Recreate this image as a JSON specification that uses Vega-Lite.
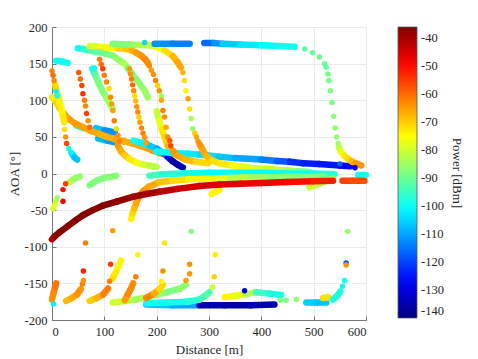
{
"$schema": "https://vega.github.io/schema/vega-lite/v6.json",
"width": 314, "height": 293,
"autosize": {"type": "none"},
"padding": {"left": 52, "top": 27, "right": 112, "bottom": 39},
"background": "white",
"config": {
  "view": {"stroke": null},
  "font": "Liberation Serif",
  "axis": {"labelFont": "Liberation Serif", "titleFont": "Liberation Serif", "labelFontSize": 12.5, "titleFontSize": 13, "titleFontWeight": "normal", "labelColor": "#262626", "titleColor": "#262626", "gridColor": "#e6e6e6", "gridWidth": 0.8, "domainColor": "#777", "tickColor": "#777", "tickSize": -4, "labelPadding": 9},
  "legend": {"labelFont": "Liberation Serif", "titleFont": "Liberation Serif", "labelFontSize": 12.5, "titleFontSize": 13, "titleFontWeight": "normal", "labelColor": "#262626", "titleColor": "#262626"}
},
"datasets": {
"seg": [
{"d":180,"a":-179,"d2":230,"a2":-180,"p":-107},{"d":230,"a":-180,"d2":282,"a2":-180,"p":-110},
{"d":282,"a":-180,"d2":330,"a2":-180,"p":-135},{"d":330,"a":-180,"d2":380,"a2":-180,"p":-136},{"d":380,"a":-180,"d2":425,"a2":-179,"p":-135},
{"d":180,"a":-177,"d2":220,"a2":-176,"p":-100},{"d":220,"a":-176,"d2":260,"a2":-175,"p":-99},{"d":260,"a":-175,"d2":282,"a2":-172,"p":-97},{"d":282,"a":-172,"d2":292,"a2":-167,"p":-95},{"d":292,"a":-167,"d2":301,"a2":-162,"p":-93},
{"d":116,"a":-176,"d2":140,"a2":-174,"p":-80},{"d":140,"a":-174,"d2":160,"a2":-172,"p":-82},{"d":160,"a":-172,"d2":186,"a2":-168,"p":-84},{"d":186,"a":-168,"d2":220,"a2":-162,"p":-86},{"d":220,"a":-162,"d2":245,"a2":-157,"p":-88},{"d":245,"a":-157,"d2":256,"a2":-152,"p":-86},
{"d":180,"a":-170,"d2":195,"a2":-164,"p":-62},{"d":195,"a":-164,"d2":205,"a2":-158,"p":-67},{"d":205,"a":-158,"d2":212,"a2":-152,"p":-71},
{"d":139,"a":-173,"d2":145,"a2":-165,"p":-65},{"d":145,"a":-165,"d2":151,"a2":-157,"p":-63},{"d":151,"a":-157,"d2":155,"a2":-150,"p":-63},
{"d":72,"a":-174,"d2":85,"a2":-170,"p":-70},{"d":85,"a":-170,"d2":98,"a2":-165,"p":-67},{"d":98,"a":-165,"d2":107,"a2":-157,"p":-62},
{"d":116,"a":-143,"d2":121,"a2":-136,"p":-72},{"d":121,"a":-136,"d2":126,"a2":-128,"p":-73},{"d":126,"a":-128,"d2":132,"a2":-119,"p":-74},
{"d":27,"a":-174,"d2":38,"a2":-170,"p":-68},{"d":38,"a":-170,"d2":48,"a2":-165,"p":-66},{"d":48,"a":-165,"d2":55,"a2":-158,"p":-64},
{"d":0,"a":-172,"d2":3,"a2":-163,"p":-64},{"d":3,"a":-163,"d2":6,"a2":-155,"p":-63},{"d":6,"a":-155,"d2":8,"a2":-150,"p":-61},
{"d":330,"a":-169,"d2":350,"a2":-167,"p":-74},{"d":350,"a":-167,"d2":370,"a2":-165,"p":-77},{"d":370,"a":-165,"d2":390,"a2":-162,"p":-83},{"d":390,"a":-162,"d2":415,"a2":-164,"p":-95},{"d":415,"a":-164,"d2":438,"a2":-166,"p":-98},
{"d":486,"a":-176,"d2":505,"a2":-176,"p":-106},{"d":505,"a":-176,"d2":524,"a2":-176,"p":-107},
{"d":518,"a":-170,"d2":528,"a2":-169,"p":-72},
{"d":537,"a":-172,"d2":545,"a2":-167,"p":-98},{"d":545,"a":-167,"d2":551,"a2":-161,"p":-98},
{"d":8,"a":154,"d2":19,"a2":153,"p":-100},{"d":19,"a":153,"d2":30,"a2":151,"p":-99},
{"d":49,"a":171,"d2":60,"a2":170,"p":-99},{"d":60,"a":170,"d2":72,"a2":168,"p":-96},{"d":72,"a":168,"d2":85,"a2":166,"p":-93},{"d":85,"a":166,"d2":100,"a2":164,"p":-91},{"d":100,"a":164,"d2":116,"a2":161,"p":-89},{"d":116,"a":161,"d2":128,"a2":155,"p":-87},{"d":128,"a":155,"d2":138,"a2":150,"p":-85},{"d":138,"a":150,"d2":146,"a2":144,"p":-83},
{"d":72,"a":174,"d2":90,"a2":173,"p":-79},{"d":90,"a":173,"d2":110,"a2":172,"p":-76},{"d":110,"a":172,"d2":126,"a2":171,"p":-74},{"d":126,"a":171,"d2":142,"a2":170,"p":-71},{"d":142,"a":170,"d2":152,"a2":168,"p":-69},{"d":152,"a":168,"d2":161,"a2":165,"p":-67},{"d":161,"a":165,"d2":170,"a2":161,"p":-65},{"d":170,"a":161,"d2":178,"a2":156,"p":-64},{"d":178,"a":156,"d2":184,"a2":150,"p":-63},
{"d":116,"a":177,"d2":135,"a2":176.5,"p":-88},{"d":135,"a":176.5,"d2":150,"a2":176,"p":-88},{"d":150,"a":176,"d2":165,"a2":175.5,"p":-86},{"d":165,"a":175.5,"d2":186,"a2":175,"p":-83},{"d":186,"a":175,"d2":200,"a2":173,"p":-80},{"d":200,"a":173,"d2":215,"a2":168,"p":-76},{"d":215,"a":168,"d2":231,"a2":160,"p":-72},{"d":231,"a":160,"d2":240,"a2":152,"p":-68},{"d":240,"a":152,"d2":246,"a2":145,"p":-66},
{"d":196,"a":177,"d2":230,"a2":177,"p":-112},{"d":230,"a":177,"d2":263,"a2":177,"p":-114},{"d":291,"a":178,"d2":310,"a2":178,"p":-116},{"d":310,"a":178,"d2":326,"a2":177,"p":-112},{"d":326,"a":177,"d2":360,"a2":176,"p":-106},{"d":360,"a":176,"d2":400,"a2":175,"p":-103},{"d":400,"a":175,"d2":430,"a2":174,"p":-101},{"d":430,"a":174,"d2":464,"a2":173,"p":-99},
{"d":77,"a":143,"d2":81,"a2":137,"p":-98},{"d":81,"a":137,"d2":85,"a2":130,"p":-93},{"d":85,"a":130,"d2":90,"a2":122,"p":-89},{"d":90,"a":122,"d2":97,"a2":112,"p":-88},{"d":97,"a":112,"d2":104,"a2":104,"p":-87},{"d":104,"a":104,"d2":110,"a2":96,"p":-85},{"d":110,"a":96,"d2":116,"a2":88,"p":-84},
{"d":145,"a":143,"d2":152,"a2":137,"p":-90},{"d":152,"a":137,"d2":158,"a2":131,"p":-89},{"d":158,"a":131,"d2":164,"a2":126,"p":-88},{"d":164,"a":126,"d2":170,"a2":120,"p":-87},{"d":170,"a":120,"d2":177,"a2":113,"p":-86},{"d":177,"a":113,"d2":183,"a2":104,"p":-85},
{"d":200,"a":85,"d2":205,"a2":72,"p":-81},{"d":205,"a":72,"d2":210,"a2":60,"p":-77},{"d":210,"a":60,"d2":215,"a2":50,"p":-73},{"d":215,"a":50,"d2":221,"a2":38,"p":-71},{"d":221,"a":38,"d2":231,"a2":27,"p":-68},
{"d":46,"a":66,"d2":59,"a2":62,"p":-100},{"d":84,"a":62,"d2":100,"a2":59,"p":-107},{"d":100,"a":59,"d2":120,"a2":56,"p":-112},{"d":88,"a":48,"d2":105,"a2":45,"p":-108},{"d":105,"a":45,"d2":125,"a2":42,"p":-111},
{"d":0,"a":104,"d2":8,"a2":97,"p":-73},{"d":8,"a":97,"d2":15,"a2":89,"p":-71},{"d":15,"a":89,"d2":25,"a2":80,"p":-68},{"d":25,"a":80,"d2":33,"a2":74,"p":-66},{"d":33,"a":74,"d2":45,"a2":68,"p":-65},{"d":45,"a":68,"d2":60,"a2":63,"p":-65},{"d":60,"a":63,"d2":75,"a2":58,"p":-66},{"d":75,"a":58,"d2":91,"a2":54,"p":-66},{"d":91,"a":54,"d2":105,"a2":50,"p":-67},{"d":105,"a":50,"d2":120,"a2":47,"p":-67},{"d":120,"a":47,"d2":137,"a2":44,"p":-66},{"d":137,"a":44,"d2":154,"a2":41,"p":-67},{"d":154,"a":41,"d2":167,"a2":38,"p":-66},{"d":167,"a":38,"d2":180,"a2":35,"p":-66},{"d":180,"a":35,"d2":193,"a2":31,"p":-65},{"d":193,"a":31,"d2":205,"a2":28,"p":-65},{"d":205,"a":28,"d2":215,"a2":26,"p":-64},
{"d":6,"a":121,"d2":9,"a2":112,"p":-71},{"d":9,"a":112,"d2":12,"a2":104,"p":-72},{"d":12,"a":104,"d2":15,"a2":96,"p":-73},{"d":15,"a":96,"d2":18,"a2":88,"p":-74},{"d":18,"a":88,"d2":21,"a2":78,"p":-74},{"d":21,"a":78,"d2":23,"a2":70,"p":-73},
{"d":38,"a":27,"d2":43,"a2":22,"p":-104},{"d":43,"a":22,"d2":48,"a2":19,"p":-107},
{"d":156,"a":45,"d2":170,"a2":42,"p":-100},{"d":170,"a":42,"d2":186,"a2":38,"p":-102},{"d":186,"a":38,"d2":200,"a2":34,"p":-106},{"d":200,"a":34,"d2":212,"a2":28,"p":-110},{"d":212,"a":28,"d2":222,"a2":22,"p":-118},{"d":222,"a":22,"d2":230,"a2":17,"p":-130},{"d":230,"a":17,"d2":240,"a2":12,"p":-136},{"d":240,"a":12,"d2":250,"a2":8,"p":-135},
{"d":200,"a":30,"d2":230,"a2":28,"p":-101},{"d":230,"a":28,"d2":260,"a2":27,"p":-102},{"d":260,"a":27,"d2":282,"a2":26,"p":-103},{"d":282,"a":26,"d2":320,"a2":23,"p":-105},{"d":320,"a":23,"d2":350,"a2":21,"p":-107},{"d":350,"a":21,"d2":400,"a2":19,"p":-110},{"d":400,"a":19,"d2":430,"a2":17,"p":-114},{"d":430,"a":17,"d2":454,"a2":16,"p":-118},{"d":454,"a":16,"d2":480,"a2":14,"p":-122},{"d":480,"a":14,"d2":510,"a2":13,"p":-124},{"d":510,"a":13,"d2":550,"a2":11,"p":-125},{"d":550,"a":11,"d2":570,"a2":10,"p":-127},
{"d":126,"a":38,"d2":132,"a2":30,"p":-65},{"d":132,"a":30,"d2":139,"a2":25,"p":-67},{"d":139,"a":25,"d2":148,"a2":20,"p":-70},{"d":148,"a":20,"d2":161,"a2":15,"p":-73},{"d":161,"a":15,"d2":175,"a2":12,"p":-76},{"d":175,"a":12,"d2":186,"a2":11,"p":-79},{"d":186,"a":11,"d2":200,"a2":9,"p":-82},
{"d":231,"a":31,"d2":240,"a2":24,"p":-64},{"d":240,"a":24,"d2":255,"a2":19,"p":-66},{"d":255,"a":19,"d2":275,"a2":16,"p":-68},{"d":275,"a":16,"d2":298,"a2":14,"p":-71},
{"d":282,"a":40,"d2":288,"a2":32,"p":-64},{"d":288,"a":32,"d2":295,"a2":24,"p":-66},{"d":295,"a":24,"d2":305,"a2":18,"p":-68},{"d":305,"a":18,"d2":320,"a2":14,"p":-71},{"d":320,"a":14,"d2":345,"a2":11,"p":-73},{"d":345,"a":11,"d2":364,"a2":9,"p":-75},{"d":364,"a":9,"d2":390,"a2":7,"p":-77},{"d":390,"a":7,"d2":410,"a2":6,"p":-79},{"d":410,"a":6,"d2":450,"a2":4,"p":-81},{"d":450,"a":4,"d2":470,"a2":3,"p":-84},{"d":470,"a":3,"d2":492,"a2":2,"p":-87},
{"d":548,"a":36,"d2":552,"a2":30,"p":-81},{"d":552,"a":30,"d2":559,"a2":24,"p":-77},{"d":559,"a":24,"d2":566,"a2":20,"p":-73},{"d":566,"a":20,"d2":572,"a2":17,"p":-71},{"d":572,"a":17,"d2":580,"a2":14,"p":-68},{"d":580,"a":14,"d2":591,"a2":11,"p":-64},
{"d":186,"a":-3,"d2":210,"a2":-1,"p":-94},{"d":210,"a":-1,"d2":250,"a2":0,"p":-97},{"d":250,"a":0,"d2":301,"a2":1,"p":-99},{"d":301,"a":1,"d2":350,"a2":1,"p":-100},{"d":350,"a":1,"d2":400,"a2":1,"p":-100},{"d":400,"a":1,"d2":450,"a2":0,"p":-100},{"d":450,"a":0,"d2":500,"a2":0,"p":-99},{"d":500,"a":0,"d2":540,"a2":-1,"p":-97},
{"d":151,"a":-62,"d2":154,"a2":-55,"p":-74},{"d":154,"a":-55,"d2":157,"a2":-48,"p":-71},{"d":157,"a":-48,"d2":161,"a2":-40,"p":-68},{"d":161,"a":-40,"d2":166,"a2":-32,"p":-66},{"d":166,"a":-32,"d2":173,"a2":-25,"p":-64},{"d":173,"a":-25,"d2":185,"a2":-18,"p":-64},{"d":185,"a":-18,"d2":205,"a2":-12,"p":-66},{"d":205,"a":-12,"d2":230,"a2":-10,"p":-69},{"d":230,"a":-10,"d2":260,"a2":-8,"p":-72},{"d":260,"a":-8,"d2":301,"a2":-7,"p":-74},{"d":301,"a":-7,"d2":340,"a2":-6,"p":-77},{"d":340,"a":-6,"d2":380,"a2":-5,"p":-82},{"d":380,"a":-5,"d2":420,"a2":-5,"p":-85},{"d":420,"a":-5,"d2":470,"a2":-4,"p":-87},{"d":470,"a":-4,"d2":520,"a2":-4,"p":-88},
{"d":33,"a":-12,"d2":43,"a2":-7,"p":-82},{"d":43,"a":-7,"d2":53,"a2":-4,"p":-86},{"d":72,"a":-16,"d2":85,"a2":-10,"p":-88},{"d":85,"a":-10,"d2":100,"a2":-6,"p":-88},{"d":100,"a":-6,"d2":123,"a2":-3,"p":-87},
{"d":492,"a":-19,"d2":510,"a2":-14,"p":-80},{"d":510,"a":-14,"d2":537,"a2":-7,"p":-83},
{"d":305,"a":-28,"d2":320,"a2":-22,"p":-74},
{"d":585,"a":-2,"d2":600,"a2":-2,"p":-99},
{"d":0,"a":-90,"d2":5,"a2":-86,"p":-42},{"d":5,"a":-86,"d2":15,"a2":-80,"p":-37},{"d":15,"a":-80,"d2":30,"a2":-72,"p":-37},{"d":30,"a":-72,"d2":45,"a2":-64,"p":-37},{"d":45,"a":-64,"d2":59,"a2":-57,"p":-37},{"d":59,"a":-57,"d2":78,"a2":-50,"p":-37},{"d":78,"a":-50,"d2":97,"a2":-44,"p":-37},{"d":97,"a":-44,"d2":125,"a2":-38,"p":-37},{"d":125,"a":-38,"d2":154,"a2":-32,"p":-38},{"d":154,"a":-32,"d2":180,"a2":-28,"p":-39},{"d":180,"a":-28,"d2":205,"a2":-25,"p":-40},{"d":205,"a":-25,"d2":240,"a2":-21,"p":-42},{"d":240,"a":-21,"d2":282,"a2":-17,"p":-44},{"d":282,"a":-17,"d2":320,"a2":-15,"p":-45},{"d":320,"a":-15,"d2":360,"a2":-14,"p":-46},{"d":360,"a":-14,"d2":400,"a2":-13,"p":-47},{"d":400,"a":-13,"d2":450,"a2":-11.5,"p":-48},{"d":450,"a":-11.5,"d2":500,"a2":-10.5,"p":-50},{"d":500,"a":-10.5,"d2":537,"a2":-10,"p":-52},
{"d":555,"a":-10,"d2":575,"a2":-10,"p":-56},{"d":575,"a":-10,"d2":597,"a2":-10,"p":-57}
],
"pts": [
{"d":483,"a":170,"p":-92},{"d":498,"a":165,"p":-91},{"d":511,"a":159,"p":-90},{"d":521,"a":150,"p":-90},{"d":524,"a":145,"p":-91},{"d":527,"a":136,"p":-89},{"d":529,"a":127,"p":-89},{"d":532,"a":113,"p":-88},{"d":535,"a":97,"p":-88},{"d":538,"a":78,"p":-87},{"d":541,"a":62,"p":-86},{"d":544,"a":50,"p":-86},{"d":547,"a":41,"p":-84},
{"d":0,"a":140,"p":-62},{"d":2,"a":134,"p":-60},{"d":4,"a":127,"p":-63},{"d":24,"a":60,"p":-72},{"d":26,"a":50,"p":-64},{"d":28,"a":41,"p":-56},{"d":32,"a":34,"p":-98},{"d":36,"a":29,"p":-102},
{"d":8,"a":112,"p":-102},{"d":10,"a":106,"p":-100},{"d":81,"a":144,"p":-100},{"d":177,"a":179,"p":-105},{"d":579,"a":8,"p":-132},{"d":550,"a":13,"p":-118},
{"d":51,"a":138,"p":-58},{"d":54,"a":129,"p":-60},{"d":57,"a":120,"p":-56},{"d":59,"a":109,"p":-54},{"d":62,"a":100,"p":-62},{"d":64,"a":92,"p":-63},{"d":66,"a":82,"p":-56},{"d":69,"a":72,"p":-64},{"d":72,"a":63,"p":-60},
{"d":91,"a":156,"p":-62},{"d":94,"a":149,"p":-60},{"d":97,"a":143,"p":-55},{"d":100,"a":134,"p":-62},{"d":104,"a":125,"p":-63},{"d":109,"a":116,"p":-72},{"d":112,"a":104,"p":-63},{"d":114,"a":95,"p":-65},{"d":116,"a":86,"p":-65},{"d":119,"a":72,"p":-62},{"d":123,"a":61,"p":-72},{"d":126,"a":52,"p":-64},{"d":129,"a":44,"p":-62},
{"d":148,"a":143,"p":-65},{"d":150,"a":136,"p":-64},{"d":152,"a":129,"p":-62},{"d":154,"a":121,"p":-60},{"d":156,"a":113,"p":-63},{"d":158,"a":106,"p":-72},{"d":160,"a":99,"p":-68},{"d":162,"a":91,"p":-64},{"d":164,"a":84,"p":-63},{"d":166,"a":77,"p":-70},{"d":168,"a":70,"p":-65},{"d":171,"a":62,"p":-63},{"d":174,"a":55,"p":-62},{"d":177,"a":49,"p":-64},{"d":180,"a":42,"p":-65},
{"d":186,"a":147,"p":-63},{"d":190,"a":141,"p":-65},{"d":194,"a":135,"p":-64},{"d":198,"a":127,"p":-62},{"d":202,"a":120,"p":-70},{"d":205,"a":113,"p":-64},{"d":209,"a":106,"p":-85},{"d":209,"a":100,"p":-66},{"d":212,"a":86,"p":-62},{"d":215,"a":77,"p":-64},{"d":218,"a":63,"p":-66},{"d":221,"a":50,"p":-63},{"d":225,"a":45,"p":-58},{"d":227,"a":38,"p":-56},
{"d":250,"a":138,"p":-67},{"d":253,"a":127,"p":-72},{"d":256,"a":113,"p":-74},{"d":260,"a":102,"p":-65},{"d":263,"a":88,"p":-72},{"d":266,"a":75,"p":-84},{"d":269,"a":61,"p":-86},{"d":273,"a":55,"p":-70},{"d":276,"a":50,"p":-66},{"d":279,"a":44,"p":-64},
{"d":21,"a":-22,"p":-50},{"d":26,"a":-14,"p":-55},{"d":21,"a":-38,"p":-48},
{"d":10,"a":-33,"p":-86},{"d":8,"a":-37,"p":-83},{"d":6,"a":-41,"p":-80},{"d":4,"a":-45,"p":-77},{"d":2,"a":-48,"p":-78},
{"d":116,"a":-78,"p":-65},{"d":64,"a":-95,"p":-62},{"d":215,"a":-95,"p":-73},{"d":266,"a":-79,"p":-88},{"d":565,"a":-79,"p":-86},{"d":164,"a":-111,"p":-74},{"d":312,"a":-111,"p":-73},{"d":60,"a":-133,"p":-52},{"d":112,"a":-124,"p":-55},{"d":160,"a":-141,"p":-62},{"d":212,"a":-133,"p":-63},{"d":263,"a":-124,"p":-64},{"d":310,"a":-141,"p":-70},{"d":307,"a":-155,"p":-80},{"d":256,"a":-146,"p":-65},{"d":263,"a":-137,"p":-64},
{"d":3,"a":-178,"p":-102},{"d":58,"a":-151,"p":-62},{"d":60,"a":-146,"p":-64},{"d":110,"a":-147,"p":-62},{"d":209,"a":-147,"p":-74},{"d":368,"a":-160,"p":-132},{"d":436,"a":-173,"p":-88},{"d":447,"a":-173,"p":-88},{"d":467,"a":-172,"p":-86},{"d":555,"a":-154,"p":-99},{"d":559,"a":-146,"p":-100},{"d":562,"a":-122,"p":-118},{"d":562,"a":-125,"p":-64}
]
},
"encoding": {
  "x": {"field": "d", "type": "quantitative", "scale": {"domain": [0, 600], "nice": false}, "axis": {"values": [0,100,200,300,400,500,600], "title": "Distance [m]", "grid": true, "labelFont": "Liberation Serif", "labelExpr": "'' + datum.value", "titlePadding": 6}},
  "y": {"field": "a", "type": "quantitative", "scale": {"domain": [-200, 200], "nice": false}, "axis": {"values": [-200,-150,-100,-50,0,50,100,150,200], "title": "AOA [°]", "grid": true, "labelFont": "Liberation Serif", "labelExpr": "'' + datum.value", "titlePadding": 3}}
},
"layer": [
  {"data": {"name": "seg"}, "mark": {"type": "rule", "strokeWidth": 6.5, "strokeCap": "round", "clip": false},
   "encoding": {"x2": {"field": "d2"}, "y2": {"field": "a2"},
     "stroke": {"field": "p", "type": "quantitative", "legend": null,
       "scale": {"type": "linear", "domain": [-140.0001, -36], "nice": false, "zero": false, "range": ["#00007f", "#0000ff", "#007fff", "#00ffff", "#7fff7f", "#ffff00", "#ff7f00", "#ff0000", "#7f0000"], "interpolate": "rgb"}}}},
  {"data": {"name": "pts"}, "mark": {"type": "circle", "size": 30, "opacity": 1},
   "encoding": {
     "color": {"field": "p", "type": "quantitative", "title": "Power [dBm]",
       "scale": {"type": "linear", "domain": [-140, -36], "nice": false, "zero": false, "range": ["#00007f", "#0000ff", "#007fff", "#00ffff", "#7fff7f", "#ffff00", "#ff7f00", "#ff0000", "#7f0000"], "interpolate": "rgb"},
       "legend": {"type": "gradient", "orient": "right", "direction": "vertical", "offset": 32, "padding": 0, "gradientLength": 291, "gradientThickness": 19, "gradientStrokeColor": "#555", "gradientStrokeWidth": 0.8, "values": [-40,-50,-60,-70,-80,-90,-100,-110,-120,-130,-140], "labelFont": "Liberation Serif", "labelExpr": "'' + datum.value", "labelOffset": 4, "titleOrient": "right", "titleAngle": 270, "titleAnchor": "middle", "titleAlign": "center", "titleBaseline": "bottom", "titlePadding": 6}}}}
]
}
